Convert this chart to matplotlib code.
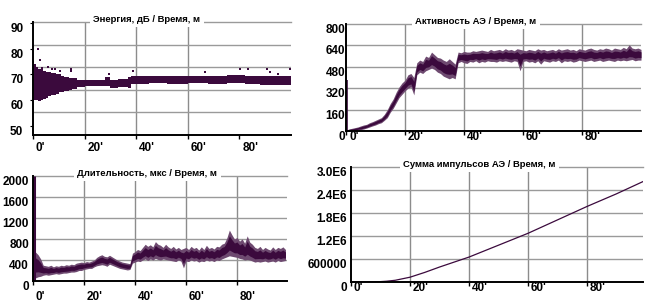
import numpy as np
import matplotlib.pyplot as plt
import matplotlib.transforms as mtransforms

plt.rcParams['font.family'] = ['Liberation Sans Narrow', 'Liberation Sans', 'DejaVu Sans']

DARK = "#3b0a3d"
MID = "#6e4a70"
GRID_H = "#9a9a9a"
GRID_V = "#8c8c8c"

# ---- Энергия (scatter band) ----
energy_t = [0, 1, 2, 3, 4, 5, 6, 7, 8, 9, 10, 11, 12, 13, 14, 15, 16, 17, 18, 19,
            20, 24, 28, 30, 33, 37, 38, 45, 52, 60, 68, 75, 82, 88, 90, 95, 100]
energy_lo = [60, 60, 59.5, 60, 60.5, 61, 61.5, 62, 62, 62.5, 63, 63, 63.5, 63.5, 64, 64.5, 64.5, 65, 65, 65,
             65.5, 65.5, 65.5, 64.8, 65.2, 64.8, 66.3, 66.5, 66.2, 66.5, 66.3, 66.5, 66.2, 66.0, 65.8, 66.0, 66.0]
energy_hi = [74, 73, 72, 72, 71.5, 71, 71, 70.5, 70.5, 70, 70, 69.5, 69, 69, 68.5, 68.5, 68.5, 68, 68, 68,
             68, 68, 68.8, 68, 68.2, 69, 69.3, 69.5, 69.3, 69.4, 69.3, 69.6, 69.4, 69.2, 69.2, 69.3, 69.3]
energy_out_t = [0, 0.5, 1.8, 2.7, 3.5, 5.9, 7.2, 8.5, 10.5, 14.6, 14.6, 29.6, 38.6,
                66.7, 80.2, 83.2, 90.6, 92, 95, 99.6]
energy_out_v = [74.8, 73.5, 79.9, 75.4, 72.5, 73, 72.2, 72.1, 71.5, 72.2, 71.2, 70.3, 71.3,
                71.1, 71.9, 71.9, 72.2, 71.1, 70.3, 72.2]

# ---- Активность АЭ ----
act_spike = 380
act_t = list(range(0, 101))
act_hi = [5, 15, 20, 25, 30, 38, 45, 50, 62, 70,
          80, 90, 100, 125, 160, 205, 240, 290, 330, 360,
          380, 420, 430, 400, 510, 530, 520, 560, 550, 590,
          570, 550, 545, 530, 520, 540, 520, 500, 590, 585,
          595, 590, 590, 600, 595, 600, 605, 600, 595, 610,
          600, 605, 610, 600, 615, 605, 610, 600, 615, 610,
          605, 600, 610, 605, 600, 615, 605, 610, 600, 605,
          610, 600, 615, 605, 610, 615, 605, 610, 600, 615,
          610, 605, 615, 620, 610, 605, 615, 610, 620, 615,
          605, 620, 615, 610, 625, 615, 645, 620, 615, 620, 610]
act_lo = [0, 0, 0, 2, 8, 10, 15, 22, 30, 38,
          45, 55, 62, 80, 100, 140, 170, 210, 250, 275,
          300, 320, 330, 270, 420, 440, 430, 450, 460, 470,
          460, 440, 430, 410, 400, 390, 400, 390, 510, 520,
          510, 505, 520, 515, 525, 510, 520, 515, 525, 520,
          520, 515, 525, 520, 525, 520, 515, 525, 520, 450,
          520, 525, 515, 520, 510, 525, 500, 525, 520, 515,
          525, 520, 530, 510, 525, 520, 525, 515, 520, 530,
          525, 520, 525, 530, 520, 525, 530, 520, 525, 530,
          525, 520, 530, 525, 530, 525, 530, 535, 525, 530, 530]

# ---- Длительность, мкс ----
dur_spike = 2000
dur_t = list(range(0, 100))
dur_hi = [300, 550, 500, 420, 300, 290, 280, 300, 270, 290,
          280, 300, 290, 310, 300, 320, 310, 340, 350, 360,
          350, 370, 360, 380, 400, 450, 480, 500, 470, 460,
          490, 460, 430, 400, 380, 360, 350, 340, 330, 530,
          560, 600, 580, 640, 700, 660, 690, 650, 750, 700,
          680, 640, 700, 650, 620, 660, 610, 640, 600, 620,
          640, 600, 660, 620, 640, 590, 650, 600, 680, 620,
          640, 610, 660, 650, 700, 720, 820, 970, 880, 800,
          830, 760, 800, 720, 860, 740, 700, 640, 620, 660,
          600, 640, 610, 590, 650, 600, 640, 620, 650, 600]
dur_lo = [0, 60, 80, 90, 110, 120, 110, 120, 130, 140,
          130, 140, 150, 150, 160, 170, 170, 180, 200, 200,
          220, 230, 240, 240, 270, 290, 300, 310, 300, 280,
          320, 300, 280, 260, 240, 230, 220, 210, 220, 340,
          360, 380, 370, 400, 420, 390, 420, 400, 430, 410,
          400, 420, 410, 400, 390, 380, 370, 400, 380, 250,
          380, 370, 400, 380, 390, 360, 380, 370, 400, 380,
          390, 370, 400, 390, 420, 440, 460, 480, 470, 460,
          450, 430, 420, 400, 410, 400, 380, 360, 370, 360,
          370, 380, 360, 370, 380, 360, 390, 370, 380, 390]

# ---- Сумма импульсов АЭ ----
sum_t = [0, 5, 10, 12, 15, 20, 25, 30, 35, 40, 50, 60, 70, 80, 90, 99]
sum_v = [0, 2e3, 1e4, 2e4, 4.5e4, 1.25e5, 2.5e5, 3.9e5, 5.2e5, 6.5e5,
         9.6e5, 1.27e6, 1.62e6, 1.97e6, 2.30e6, 2.62e6]

x_ticks = [0, 20, 40, 60, 80]
x_labels = ["0'", "20'", "40'", "60'", "80'"]

W, H = 648, 303
fig = plt.figure(figsize=(W / 100, H / 100), dpi=100)


def make_ax(left, top, right, bottom):
    return fig.add_axes([left / W, 1 - bottom / H, (right - left) / W, (bottom - top) / H])


def band(ax, t, lo, hi):
    # outer envelope lighter, inner core dark
    lo = np.array(lo, dtype=float)
    hi = np.array(hi, dtype=float)
    mid = (lo + hi) / 2
    half = (hi - lo) / 2
    ax.fill_between(t, lo, hi, color=MID, lw=0, zorder=3)
    ax.fill_between(t, mid - 0.55 * half, mid + 0.55 * half, color=DARK, lw=0, zorder=4)


def style(ax, title, yticks, ylabels, xpad, ypad, vgrid, hgrid, tx=0.44):
    ax.spines["right"].set_visible(False)
    ax.spines["top"].set_color(GRID_H)
    ax.spines["top"].set_linewidth(1.0)
    for s in ["left", "bottom"]:
        ax.spines[s].set_linewidth(1.4)
        ax.spines[s].set_color("black")
        ax.spines[s].set_zorder(6)
    for v in vgrid:
        ax.axvline(v, color=GRID_V, lw=1.0, zorder=1)
    for h in hgrid:
        ax.axhline(h, color=GRID_H, lw=1.0, zorder=1)
    ax.set_xticks(x_ticks)
    ax.set_xticklabels(x_labels)
    ax.set_yticks(yticks)
    ax.set_yticklabels(ylabels)
    ax.tick_params(axis="x", direction="out", length=3, width=1, pad=xpad,
                   labelsize=8.5)
    ax.tick_params(axis="y", length=0, pad=ypad, labelsize=8.5)
    off = mtransforms.ScaledTranslation(3 / 100, 0, fig.dpi_scale_trans)
    for lbl in ax.get_xticklabels():
        lbl.set_ha("left")
        lbl.set_fontweight("bold")
        lbl.set_transform(lbl.get_transform() + off)
    for lbl in ax.get_yticklabels():
        lbl.set_va("top")
        lbl.set_fontweight("bold")
    ax.text(tx, 1.0, title, transform=ax.transAxes, ha="center", va="baseline",
            fontsize=6.8, fontweight="bold", family=["Liberation Sans", "DejaVu Sans"],
            zorder=10, clip_on=False,
            bbox=dict(facecolor="white", edgecolor="none", pad=2.5))


# Энергия
ax1 = make_ax(33, 22, 291, 135)
ax1.fill_between(energy_t, energy_lo, energy_hi, step="post", color=DARK, lw=0, zorder=3)
ax1.scatter(energy_out_t, energy_out_v, marker="s", s=3, color=DARK, lw=0, zorder=3)
ax1.set_xlim(0, 100)
ax1.set_ylim(46.5, 90.3)
yl = ax1.get_ylim()
style(ax1, "Энергия, дБ / Время, м", [50, 60, 70, 80, 90], ["50", "60", "70", "80", "90"],
      xpad=2.4, ypad=5, vgrid=[20, 40, 60],
      hgrid=[yl[0] + f * (yl[1] - yl[0]) for f in (0.2, 0.4, 0.6, 0.8)])
ax1.tick_params(axis="y", length=2, direction="out")

# Активность АЭ
ax2 = make_ax(346, 24, 641, 131)
band(ax2, act_t, act_lo, act_hi)
ax2.vlines(0.2, 0, act_spike, color=DARK, lw=1.2, zorder=4)
ax2.set_xlim(0, 100)
ax2.set_ylim(0, 800)
style(ax2, "Активность АЭ / Время, м", [0, 160, 320, 480, 640, 800],
      ["0", "160", "320", "480", "640", "800"], xpad=-2.7, ypad=0.7,
      vgrid=[20, 40, 60, 80], hgrid=[160, 320, 480, 640])

# Длительность
ax3 = make_ax(33, 176, 287, 281)
band(ax3, dur_t, dur_lo, dur_hi)
ax3.vlines(0.4, 0, dur_spike, color=DARK, lw=2.2, zorder=4)
ax3.set_xlim(0, 99.6)
ax3.set_ylim(0, 2000)
style(ax3, "Длительность, мкс / Время, м", [0, 400, 800, 1200, 1600, 2000],
      ["0", "400", "800", "1200", "1600", "2000"], xpad=4.5, ypad=2.9,
      vgrid=[20, 40, 60, 80], hgrid=[400, 800, 1200, 1600], tx=0.45)

# Сумма импульсов
ax4 = make_ax(351, 167, 643, 282)
ax4.plot(sum_t, sum_v, color=DARK, lw=0.9, zorder=3)
ax4.set_xlim(0, 99)
ax4.set_ylim(0, 3e6)
style(ax4, "Сумма импульсов АЭ / Время, м", [0, 6e5, 1.2e6, 1.8e6, 2.4e6, 3e6],
      ["0", "600000", "1.2E6", "1.8E6", "2.4E6", "3.0E6"], xpad=-2.7, ypad=2.9,
      vgrid=[20, 40, 60, 80], hgrid=[6e5, 1.2e6, 1.8e6, 2.4e6])

fig.savefig("out.png", dpi=100)
